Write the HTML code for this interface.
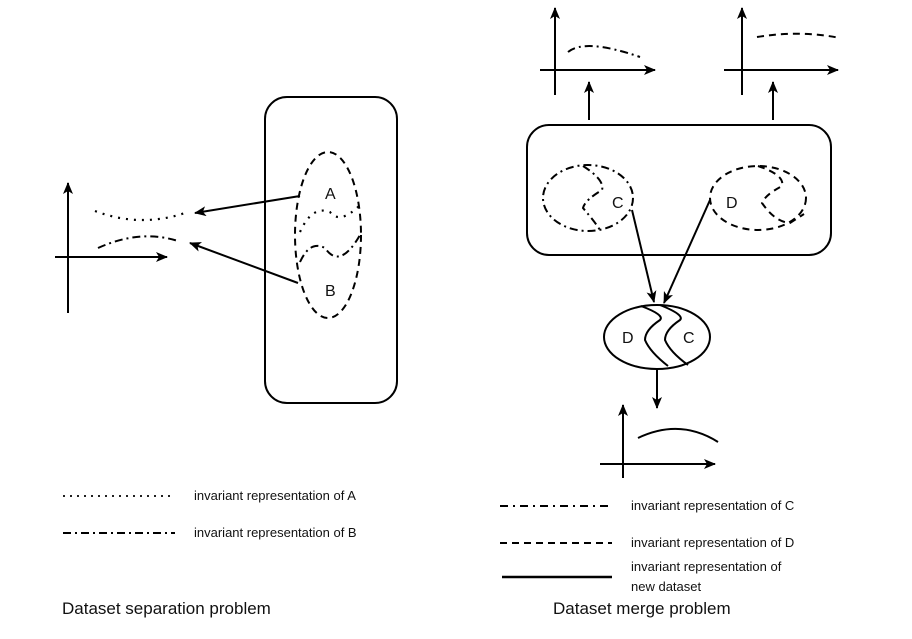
<!DOCTYPE html>
<html><head><style>body{margin:0;background:#fff}svg{display:block}text{font-family:"Liberation Sans",sans-serif;fill:#111}</style></head>
<body>
<svg width="912" height="639" viewBox="0 0 912 639" xmlns="http://www.w3.org/2000/svg">
<defs><marker id="a" markerWidth="12" markerHeight="10" refX="11" refY="5" orient="auto" markerUnits="userSpaceOnUse"><path d="M0,0 L12,5 L0,10 L3,5 z" fill="#000"/></marker></defs>
<g fill="none" stroke="#000" stroke-width="2">
<!-- left -->
<rect x="265" y="97" width="132" height="306" rx="22"/>
<ellipse cx="328" cy="235" rx="33" ry="83" stroke-dasharray="7,5"/>
<path d="M300,232 Q312,205 330,212 Q340,225 360,205" stroke-dasharray="2,6" stroke-width="2.2"/>
<path d="M300,262 Q310,240 325,248 Q340,270 360,235" stroke-dasharray="8,4,2,4"/>
<line x1="300" y1="196" x2="195" y2="213" marker-end="url(#a)"/>
<line x1="298" y1="283" x2="190" y2="243" marker-end="url(#a)"/>
<line x1="68" y1="313" x2="68" y2="183" marker-end="url(#a)"/>
<line x1="55" y1="257" x2="167" y2="257" marker-end="url(#a)"/>
<path d="M95,211 Q140,228 185,213" stroke-dasharray="2,6" stroke-width="2.2"/>
<path d="M98,248 Q140,229 178,241" stroke-dasharray="8,4,2,4"/>
<!-- right -->
<rect x="527" y="125" width="304" height="130" rx="22"/>
<ellipse cx="588" cy="198" rx="45" ry="33" stroke-dasharray="8,4,2,4"/>
<path d="M583,166 Q605,180 602,190 Q585,200 583,208 Q595,222 600,230" stroke-dasharray="8,4,2,4"/>
<ellipse cx="758" cy="198" rx="48" ry="32" stroke-dasharray="7,5"/>
<path d="M758,166 Q785,175 782,186 Q765,195 762,203 Q775,222 790,223 L804,214" stroke-dasharray="7,5"/>
<line x1="632" y1="210" x2="654" y2="302" marker-end="url(#a)"/>
<line x1="710" y1="200" x2="664" y2="303" marker-end="url(#a)"/>
<ellipse cx="657" cy="337" rx="53" ry="32"/>
<path d="M641,306 Q665,315 660,320 Q645,330 645,340 Q650,352 668,366"/>
<path d="M660,305 Q685,315 680,320 Q665,330 665,340 Q670,352 688,365"/>
<line x1="657" y1="369" x2="657" y2="408" marker-end="url(#a)"/>
<line x1="623" y1="478" x2="623" y2="405" marker-end="url(#a)"/>
<line x1="600" y1="464" x2="715" y2="464" marker-end="url(#a)"/>
<path d="M638,438 Q680,418 718,442"/>
<line x1="555" y1="95" x2="555" y2="8" marker-end="url(#a)"/>
<line x1="540" y1="70" x2="655" y2="70" marker-end="url(#a)"/>
<path d="M568,52 Q585,38 640,57" stroke-dasharray="8,4,2,4"/>
<line x1="742" y1="95" x2="742" y2="8" marker-end="url(#a)"/>
<line x1="724" y1="70" x2="838" y2="70" marker-end="url(#a)"/>
<path d="M757,37 Q800,30 840,38" stroke-dasharray="7,5"/>
<line x1="589" y1="120" x2="589" y2="82" marker-end="url(#a)"/>
<line x1="773" y1="120" x2="773" y2="82" marker-end="url(#a)"/>
<!-- legends -->
<line x1="63" y1="496" x2="175" y2="496" stroke-dasharray="2,5" stroke-width="1.8"/>
<line x1="63" y1="533" x2="175" y2="533" stroke-dasharray="8,4,2,4"/>
<line x1="500" y1="506" x2="612" y2="506" stroke-dasharray="8,5,2,5"/>
<line x1="500" y1="543" x2="612" y2="543" stroke-dasharray="7,5"/>
<line x1="502" y1="577" x2="612" y2="577" stroke-width="2.5"/>
</g>
<g font-size="16">
<text x="325" y="199">A</text><text x="325" y="296">B</text>
<text x="612" y="208">C</text><text x="726" y="208">D</text>
<text x="622" y="343">D</text><text x="683" y="343">C</text>
</g>
<g font-size="13">
<text x="194" y="500">invariant representation of A</text>
<text x="194" y="537">invariant representation of B</text>
<text x="631" y="510">invariant representation of C</text>
<text x="631" y="547">invariant representation of D</text>
<text x="631" y="571">invariant representation of</text>
<text x="631" y="591">new dataset</text>
</g>
<g font-size="17">
<text x="62" y="614">Dataset separation problem</text>
<text x="553" y="614">Dataset merge problem</text>
</g>
</svg>
</body></html>
